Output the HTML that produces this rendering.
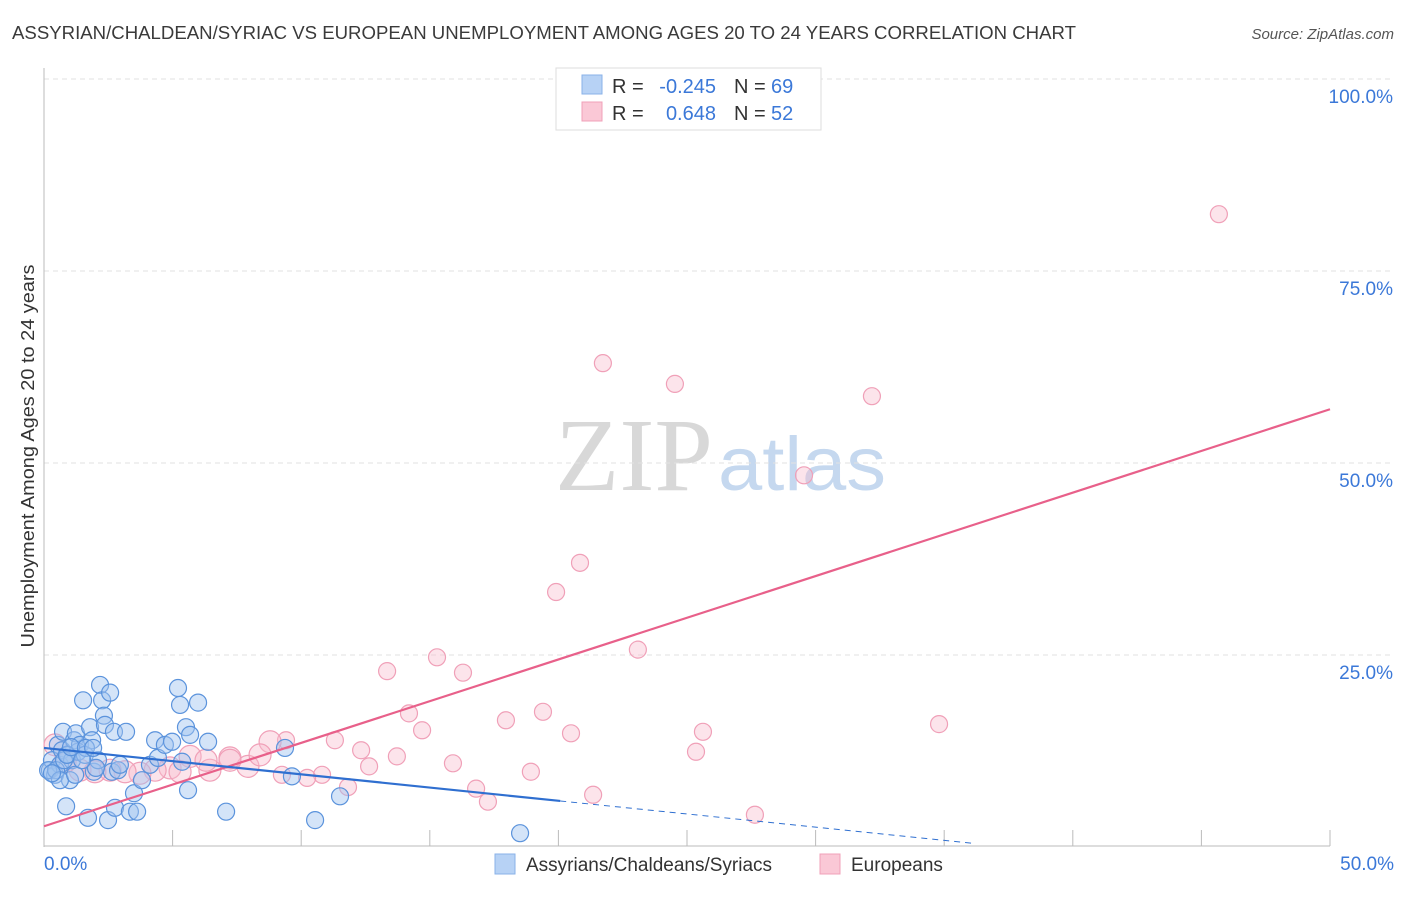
<!DOCTYPE html>
<html><head><meta charset="utf-8"><style>
body{margin:0;background:#fff;font-family:"Liberation Sans",sans-serif}
</style></head><body>
<svg id="chart" width="1406" height="892" xmlns="http://www.w3.org/2000/svg">
<text x="12" y="39" font-size="18" textLength="1064" lengthAdjust="spacingAndGlyphs" fill="#3a3a3a">ASSYRIAN/CHALDEAN/SYRIAC VS EUROPEAN UNEMPLOYMENT AMONG AGES 20 TO 24 YEARS CORRELATION CHART</text>
<text x="1394" y="39" font-size="15" fill="#555" font-style="italic" text-anchor="end">Source: ZipAtlas.com</text>
<g>
<text x="555" y="490" font-size="104" textLength="158" lengthAdjust="spacingAndGlyphs" fill="#d8d8d8" font-family="Liberation Serif,serif">ZIP</text>
<text x="718" y="490" font-size="76" textLength="168" lengthAdjust="spacingAndGlyphs" fill="#c5d8ef">atlas</text>
</g>
<g id="grid"></g>
<g id="axes"></g>
<g id="marks"></g>
<text transform="translate(34,456) rotate(-90)" font-size="18" textLength="383" lengthAdjust="spacingAndGlyphs" fill="#333" text-anchor="middle">Unemployment Among Ages 20 to 24 years</text>
<g>
<rect x="556" y="68" width="265" height="62" fill="#fff" stroke="#ddd"/>
<rect x="582" y="75" width="20" height="19" fill="#b7d2f5" stroke="#8ab2e8"/>
<rect x="582" y="102" width="20" height="19" fill="#fac8d6" stroke="#f0a0b8"/>
<text x="612" y="93" font-size="20" fill="#333">R =</text>
<text x="716" y="93" font-size="20" fill="#3b78d8" text-anchor="end">-0.245</text>
<text x="734" y="93" font-size="20" fill="#333">N =</text>
<text x="771" y="93" font-size="20" fill="#3b78d8">69</text>
<text x="612" y="120" font-size="20" fill="#333">R =</text>
<text x="716" y="120" font-size="20" fill="#3b78d8" text-anchor="end">0.648</text>
<text x="734" y="120" font-size="20" fill="#333">N =</text>
<text x="771" y="120" font-size="20" fill="#3b78d8">52</text>
</g>
<g>
<rect x="495" y="854" width="20" height="20" fill="#b7d2f5" stroke="#8ab2e8"/>
<text x="526" y="871" font-size="19" fill="#333">Assyrians/Chaldeans/Syriacs</text>
<rect x="820" y="854" width="20" height="20" fill="#fac8d6" stroke="#f0a0b8"/>
<text x="851" y="871" font-size="19" fill="#333">Europeans</text>
</g>
</svg>
<script>
const blueX=[0.23,0.31,0.43,0.54,0.62,0.70,0.74,0.86,0.93,1.01,1.09,1.17,1.24,1.32,1.40,1.52,1.59,1.71,1.79,1.87,1.94,2.10,2.18,2.26,2.33,2.37,2.49,2.57,2.64,2.72,2.76,2.88,3.19,3.34,3.50,3.62,3.81,4.12,4.32,4.43,4.70,4.98,5.21,5.29,5.37,5.52,5.60,5.68,5.99,6.38,7.08,9.37,9.64,10.54,11.51,18.51,0.16,0.47,0.78,0.89,1.05,1.63,2.02,2.95,0.62,0.31,1.21,1.48,1.91];
const blueY=[10.0,11.3,9.4,13.3,10.7,12.6,15.0,5.3,12.0,8.7,11.3,13.9,14.8,12.4,13.3,19.1,12.0,3.8,15.6,13.9,9.8,11.3,21.1,19.1,17.1,15.9,3.5,20.1,9.8,15.0,5.1,10.0,15.0,4.6,7.0,4.6,8.7,10.7,13.9,11.6,13.3,13.7,20.7,18.5,11.1,15.6,7.4,14.6,18.8,13.7,4.6,12.9,9.2,3.5,6.6,1.8,10.0,10.0,11.3,12.0,13.0,12.9,10.3,10.7,8.7,9.6,9.4,11.3,12.9];
const pinkX=[45.68,21.73,24.53,32.19,29.55,20.84,19.91,23.09,13.34,15.28,16.29,14.19,19.40,17.96,14.70,20.49,25.62,34.80,25.35,9.41,11.31,12.33,13.72,15.90,12.64,18.93,10.81,9.25,10.23,16.80,11.82,17.26,21.35,27.64,8.79,7.93,7.23,6.45,5.68,4.90,4.32,3.73,3.15,2.57,1.98,1.40,0.82,0.43,6.30,5.29,8.40,7.23];
const pinkY=[82.4,63.0,60.3,58.7,48.4,37.0,33.2,25.7,22.9,24.7,22.7,17.4,17.6,16.5,15.2,14.8,15.0,16.0,12.4,13.9,13.9,12.6,11.8,10.9,10.5,9.8,9.4,9.4,9.0,7.6,7.8,5.9,6.8,4.2,13.7,10.5,11.6,10.0,11.8,10.3,10.0,9.6,9.8,10.0,9.8,10.0,11.1,13.3,11.3,9.8,12.0,11.3];
const yTicks=[25,50,75,100];
const yTickLabels=["25.0%","50.0%","75.0%","100.0%"];
const xTickVals=[0,5,10,15,20,25,30,35,40,45,50];
const blueTrend=[12.9,-0.344];
const pinkTrend=[2.7,1.086];
const NS="http://www.w3.org/2000/svg";
const sx=v=>44+v*25.72, sy=v=>847-v*7.68;
function mk(tag,attrs,parent){const e=document.createElementNS(NS,tag);for(const k in attrs)e.setAttribute(k,attrs[k]);parent.appendChild(e);return e;}
const grid=document.getElementById('grid'),axes=document.getElementById('axes'),marks=document.getElementById('marks');
yTicks.forEach((t,i)=>{
 const l=mk('line',{x1:44,x2:1394,y1:sy(t),y2:sy(t),stroke:'#e2e2e2','stroke-dasharray':'5,4'},grid);
 
 
 const tx=mk('text',{x:1393,y:sy(t)+24,'font-size':19,fill:'#3b78d8','text-anchor':'end'},axes);
 tx.textContent=yTickLabels[i];
 
 
});
const ya=mk('line',{x1:44,x2:44,y1:68,y2:847,stroke:'#bbb'},axes);


const xa=mk('line',{x1:44,x2:1330,y1:846,y2:846,stroke:'#bbb'},axes);


xTickVals.forEach(v=>{const t=mk('line',{x1:sx(v),x2:sx(v),y1:830,y2:846,stroke:'#bbb'},axes);
 
 });
[[0,"0.0%","start",44],[50,"50.0%","end",1394]].forEach(a=>{const t=mk('text',{x:a[3],y:870,'font-size':19,fill:'#3b78d8','text-anchor':a[2]},axes);t.textContent=a[1];
 
 });
pinkX.forEach((x,i)=>{const r=(x<9)?11:8.5;const c=mk('circle',{cx:sx(x),cy:sy(pinkY[i]),r:r,fill:'rgba(248,188,206,0.4)',stroke:'#f0a0b8','stroke-width':1.2},marks);
 
 });
blueX.forEach((x,i)=>{const c=mk('circle',{cx:sx(x),cy:sy(blueY[i]),r:8.5,fill:'rgba(160,196,240,0.45)',stroke:'#5b93dc','stroke-width':1.2},marks);
 
 });
const pl=mk('line',{x1:sx(0),y1:sy(pinkTrend[0]),x2:sx(50),y2:sy(pinkTrend[0]+50*pinkTrend[1]),stroke:'#e8608a','stroke-width':2.2},marks);


const bl=mk('line',{x1:sx(0),y1:sy(blueTrend[0]),x2:sx(20.07),y2:sy(blueTrend[0]+20.07*blueTrend[1]),stroke:'#2f6fd0','stroke-width':2.2},marks);


const bd=mk('line',{x1:sx(20.07),y1:sy(blueTrend[0]+20.07*blueTrend[1]),x2:sx(36.2),y2:sy(blueTrend[0]+36.2*blueTrend[1]),stroke:'#2f6fd0','stroke-width':1,'stroke-dasharray':'6,5'},marks);


</script>
</body></html>
